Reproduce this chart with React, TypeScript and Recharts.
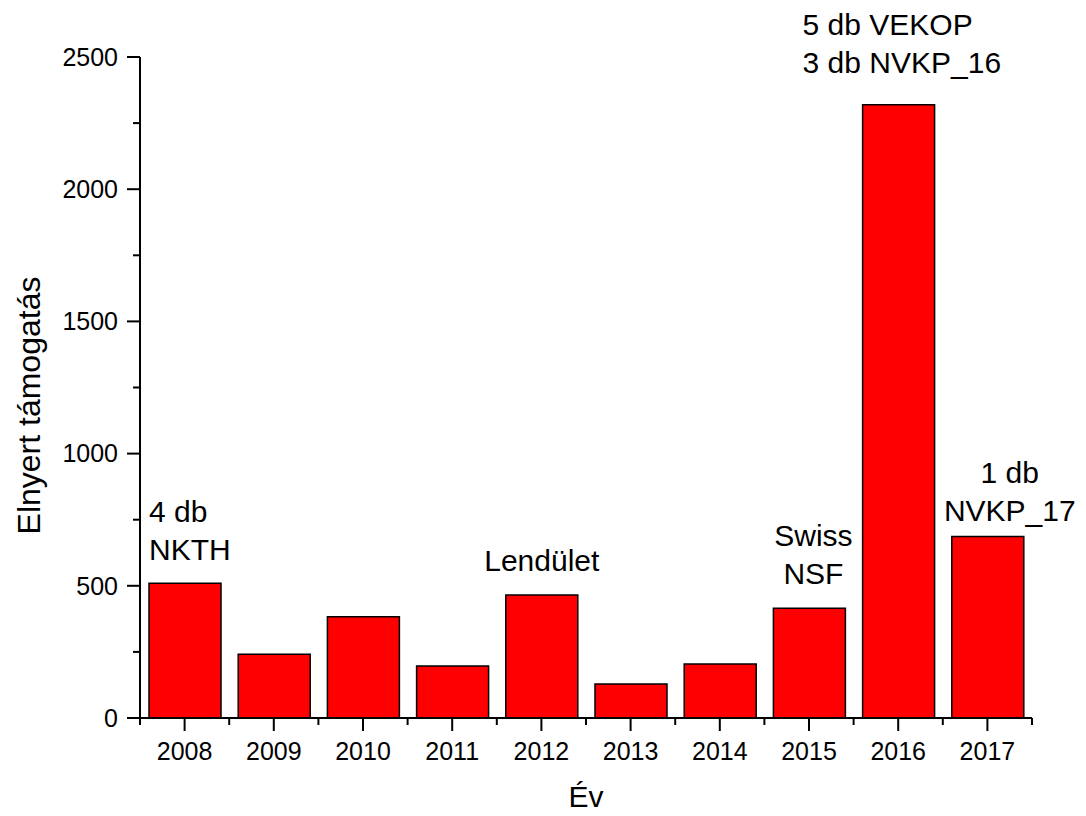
import React from "react";
import { BarChart, Bar, XAxis, YAxis, LabelList } from "recharts";

const years = ["2008", "2009", "2010", "2011", "2012", "2013", "2014", "2015", "2016", "2017"];
const funding = [510, 241, 383, 197, 465, 129, 204, 415, 2319, 686];
const notes: string[][] = [
  ["4 db", "NKTH"],
  [],
  [],
  [],
  ["Lendület"],
  [],
  [],
  ["Swiss", "NSF"],
  ["5 db VEKOP", "3 db NVKP_16"],
  ["1 db", "NVKP_17"],
];
const yTicks = [0, 250, 500, 750, 1000, 1250, 1500, 1750, 2000, 2250, 2500];

const FONT = "'Liberation Sans', Arial, Helvetica, sans-serif";

// where each note sits relative to its bar (start = bar left edge, middle = bar centre)
const notePlacement: Record<string, { anchor: "start" | "middle"; dx: number; dy: number }> = {
  "2008": { anchor: "start", dx: 0, dy: -61 },
  "2012": { anchor: "middle", dx: 0, dy: -24 },
  "2015": { anchor: "middle", dx: 4, dy: -62 },
  "2016": { anchor: "start", dx: -60, dy: -70 },
  "2017": { anchor: "middle", dx: 22, dy: -54 },
};

const data = years.map((year, i) => ({ year, value: funding[i] }));

const YTick = (props: any) => {
  const { x, y, payload } = props;
  const major = payload.value % 500 === 0;
  return (
    <g>
      <line x1={x - (major ? 13 : 7)} x2={x} y1={y} y2={y} stroke="#000" strokeWidth={2} />
      {major && (
        <text x={x - 22} y={y} dy="0.35em" textAnchor="end" fontSize={25} fontFamily={FONT} fill="#000">
          {payload.value}
        </text>
      )}
    </g>
  );
};

const XTick = (props: any) => {
  const { x, y, payload, index } = props;
  const count = props.visibleTicksCount ?? years.length;
  const band = (props.width ?? 892) / count;
  return (
    <g>
      <line x1={x} x2={x} y1={y} y2={y + 13} stroke="#000" strokeWidth={2} />
      <line x1={x - band / 2} x2={x - band / 2} y1={y} y2={y + 7} stroke="#000" strokeWidth={2} />
      {index === count - 1 && (
        <line x1={x + band / 2} x2={x + band / 2} y1={y} y2={y + 7} stroke="#000" strokeWidth={2} />
      )}
      <text x={x} y={y + 42} textAnchor="middle" fontSize={25} fontFamily={FONT} fill="#000">
        {payload.value}
      </text>
    </g>
  );
};

const YTitle = (props: any) => {
  const vb = props.viewBox || { x: 0, y: 57, width: 140, height: 661 };
  const cx = vb.x + 40;
  const cy = vb.y + vb.height / 2 + 18;
  return (
    <text
      x={cx}
      y={cy}
      transform={`rotate(-90 ${cx} ${cy})`}
      textAnchor="middle"
      fontSize={32}
      fontFamily={FONT}
      fill="#000"
    >
      Elnyert támogatás
    </text>
  );
};

const XTitle = (props: any) => {
  const vb = props.viewBox || { x: 140, y: 718, width: 892, height: 98 };
  return (
    <text x={vb.x + vb.width / 2} y={vb.y + 89} textAnchor="middle" fontSize={30} fontFamily={FONT} fill="#000">
      Év
    </text>
  );
};

const NoteLabel = (props: any) => {
  const { x, y, width, value } = props;
  const idx = years.indexOf(String(value));
  const lines = notes[idx] || [];
  const place = notePlacement[String(value)];
  if (!lines.length || !place) return null;
  const tx = (place.anchor === "start" ? x : x + width / 2) + place.dx;
  return (
    <text textAnchor={place.anchor} fontSize={30} fontFamily={FONT} fill="#000">
      {lines.map((line, i) => (
        <tspan key={i} x={tx} y={y + place.dy + i * 38}>
          {line}
        </tspan>
      ))}
    </text>
  );
};

export default function App() {
  return (
    <div style={{ position: "absolute", left: 0, top: 0, background: "#fff" }}>
      <BarChart width={1086} height={816} data={data} margin={{ top: 57, right: 54, left: 0, bottom: 0 }}>
        <XAxis
          dataKey="year"
          height={98}
          interval={0}
          tickLine={false}
          tickSize={0}
          tickMargin={0}
          axisLine={{ stroke: "#000", strokeWidth: 2 }}
          tick={<XTick />}
          label={<XTitle />}
        />
        <YAxis
          width={140}
          domain={[0, 2500]}
          ticks={yTicks}
          interval={0}
          tickLine={false}
          tickSize={0}
          tickMargin={0}
          axisLine={{ stroke: "#000", strokeWidth: 2 }}
          tick={<YTick />}
          label={<YTitle />}
        />
        <Bar dataKey="value" fill="#ff0000" stroke="#000" strokeWidth={1.5} barSize={72} isAnimationActive={false}>
          <LabelList dataKey="year" content={<NoteLabel />} />
        </Bar>
      </BarChart>
    </div>
  );
}
